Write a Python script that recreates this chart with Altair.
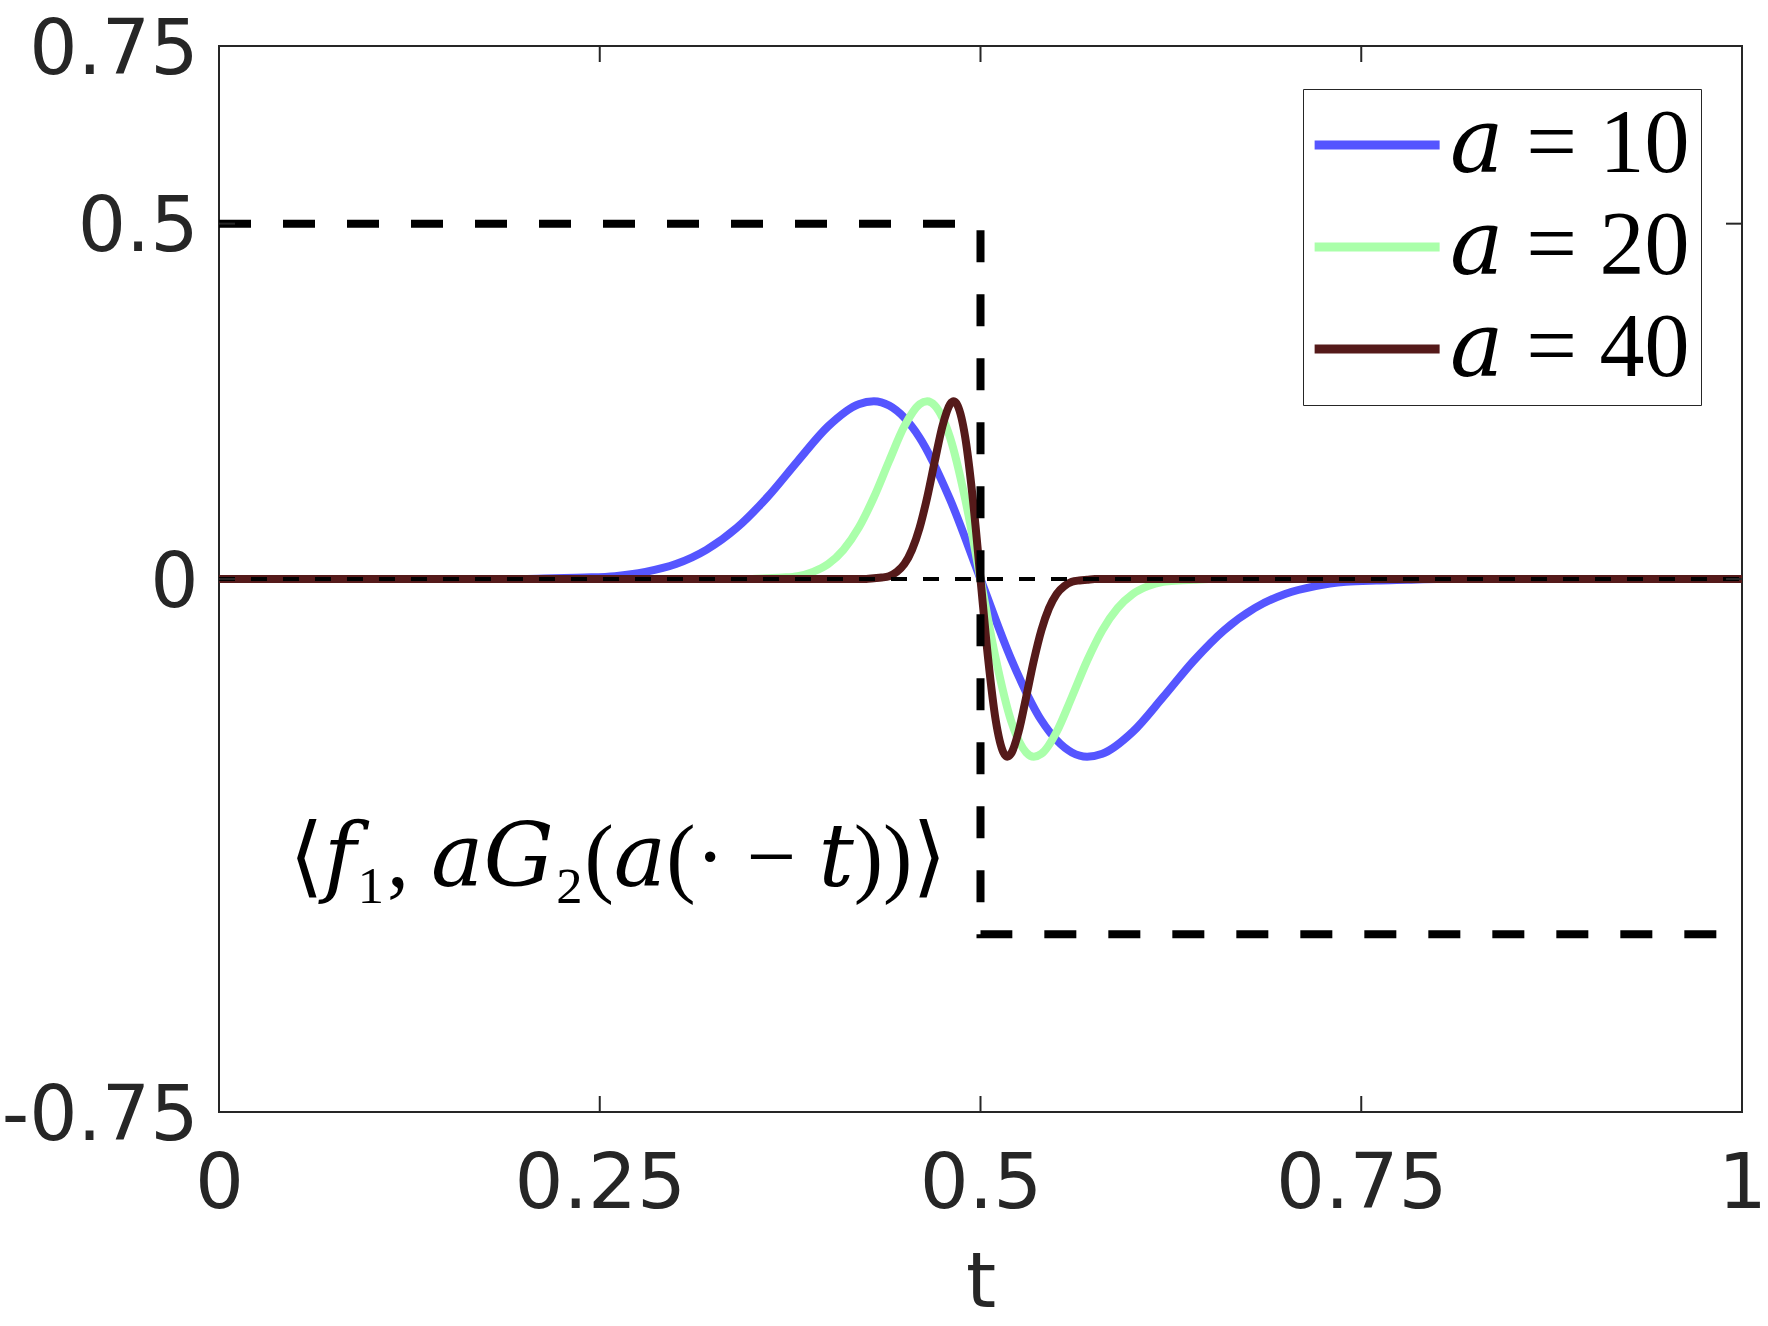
import altair as alt
import pandas as pd

# ---------------- data ----------------
SERIES = ["𝑎 = 10", "𝑎 = 20", "𝑎 = 40"]
COLORS = ["#5555ff", "#aaffaa", "#551a1a"]

T10 = [0.00, 0.20, 0.22, 0.24, 0.26, 0.28, 0.30, 0.32, 0.34, 0.36, 0.38, 0.40,
       0.42, 0.43, 0.44, 0.46, 0.48, 0.50, 0.52, 0.54, 0.56, 0.57, 0.58, 0.60,
       0.62, 0.64, 0.66, 0.68, 0.70, 0.72, 0.74, 0.76, 0.78, 0.80, 1.00]
Y10 = [0.000, 0.000, 0.001, 0.002, 0.004, 0.010, 0.021, 0.041, 0.072, 0.115, 0.166, 0.215,
       0.246, 0.250, 0.244, 0.199, 0.112, 0.000, -0.112, -0.199, -0.244, -0.250, -0.246, -0.215,
       -0.166, -0.115, -0.072, -0.041, -0.021, -0.010, -0.004, -0.002, -0.001, 0.000, 0.000]

T20 = [0.00, 0.35, 0.36, 0.37, 0.38, 0.39, 0.40, 0.41, 0.42, 0.43, 0.44, 0.45,
       0.46, 0.465, 0.47, 0.48, 0.49, 0.50, 0.51, 0.52, 0.53, 0.535, 0.54, 0.55,
       0.56, 0.57, 0.58, 0.59, 0.60, 0.61, 0.62, 0.63, 0.64, 0.65, 1.00]
Y20 = [0.000, 0.000, 0.001, 0.002, 0.004, 0.010, 0.021, 0.041, 0.072, 0.115, 0.166, 0.215,
       0.246, 0.250, 0.244, 0.199, 0.112, 0.000, -0.112, -0.199, -0.244, -0.250, -0.246, -0.215,
       -0.166, -0.115, -0.072, -0.041, -0.021, -0.010, -0.004, -0.002, -0.001, 0.000, 0.000]

T40 = [0.000, 0.425, 0.430, 0.435, 0.440, 0.445, 0.450, 0.455, 0.460, 0.465, 0.470, 0.475,
       0.480, 0.4825, 0.485, 0.490, 0.495, 0.500, 0.505, 0.510, 0.515, 0.5175, 0.520, 0.525,
       0.530, 0.535, 0.540, 0.545, 0.550, 0.555, 0.560, 0.565, 0.570, 0.575, 1.000]
Y40 = [0.000, 0.000, 0.001, 0.002, 0.004, 0.010, 0.021, 0.041, 0.072, 0.115, 0.166, 0.215,
       0.246, 0.250, 0.244, 0.199, 0.112, 0.000, -0.112, -0.199, -0.244, -0.250, -0.246, -0.215,
       -0.166, -0.115, -0.072, -0.041, -0.021, -0.010, -0.004, -0.002, -0.001, 0.000, 0.000]

STEP_T = [0.0, 0.5, 0.5, 1.0]
STEP_Y = [0.5, 0.5, -0.5, -0.5]
ZERO_T = [0.0, 1.0]
ZERO_Y = [0.0, 0.0]

XTICKS = [0, 0.25, 0.5, 0.75, 1]
XLABELS = ["0", "0.25", "0.5", "0.75", "1"]
YTICKS = [-0.75, 0, 0.5, 0.75]
YLABELS = ["-0.75", "0", "0.5", "0.75"]
XMARKS = [0.25, 0.5, 0.75]
YMARKS = [0.5, 0.0]

ANNOT_TEXT = ["⟨𝑓₁, 𝑎𝐺₂(𝑎(· − 𝑡))⟩"]
ANNOT_T = [0.262]
ANNOT_Y = [-0.432]

# ---------------- tables ----------------
rows = []
for name, ts, ys in zip(SERIES, [T10, T20, T40], [Y10, Y20, Y40]):
    for t, y in zip(ts, ys):
        rows.append({"series": name, "t": t, "v": y})
curves_df = pd.DataFrame(rows)
step_df = pd.DataFrame({"t": STEP_T, "v": STEP_Y, "i": list(range(len(STEP_T)))})
zero_df = pd.DataFrame({"t": ZERO_T, "v": ZERO_Y})
annot_df = pd.DataFrame({"t": ANNOT_T, "v": ANNOT_Y, "txt": ANNOT_TEXT})
xmark_df = pd.DataFrame({"t": XMARKS})
ymark_df = pd.DataFrame({"v": YMARKS})

W, H = 1523, 1066
AX = "#262626"
FONT = "DejaVu Sans"
SERIF = "Liberation Serif, DejaVu Serif, serif"


def label_expr(vals, labs):
    parts = [f"datum.value == {v} ? '{l}'" for v, l in zip(vals, labs)]
    return " : ".join(parts) + " : ''"


xs = alt.Scale(domain=[0, 1], nice=False, zero=False)
ys = alt.Scale(domain=[-0.75, 0.75], nice=False, zero=False)

xaxis = alt.Axis(values=XTICKS, labelExpr=label_expr(XTICKS, XLABELS), title="t",
                 domain=False, ticks=False, grid=False, labelFont=FONT, labelFontSize=77,
                 labelColor=AX, labelPadding=34, labelFlush=False, labelOverlap=False,
                 labelLimit=400, titleFont=FONT, titleFontSize=77, titleFontWeight="normal",
                 titleColor=AX, titlePadding=23)
yaxis = alt.Axis(values=YTICKS, labelExpr=label_expr(YTICKS, YLABELS), title=None,
                 domain=False, ticks=False, grid=False, labelFont=FONT, labelFontSize=76,
                 labelColor=AX, labelPadding=21, labelFlush=False, labelOverlap=False,
                 labelOffset=4, labelLimit=400)

X = lambda f="t": alt.X(f"{f}:Q", scale=xs, axis=xaxis)
Y = lambda f="v": alt.Y(f"{f}:Q", scale=ys, axis=yaxis)

curves = alt.Chart(curves_df).mark_line(strokeWidth=8, interpolate="monotone").encode(
    x=X(), y=Y(),
    color=alt.Color("series:N", scale=alt.Scale(domain=SERIES, range=COLORS),
                    sort=SERIES,
                    legend=alt.Legend(orient="none", legendX=1084, legendY=43, title=None,
                                      symbolType="M-1.42,0H2.58", symbolSize=3906,
                                      symbolStrokeWidth=9, labelFont=SERIF,
                                      labelFontSize=90, labelColor="black", labelLimit=600,
                                      padding=11, rowPadding=12, labelOffset=46,
                                      strokeColor=AX, fillColor="white")),
)

step = alt.Chart(step_df).mark_line(color="black", strokeWidth=8, strokeDash=[32, 32]).encode(
    x=X(), y=Y(), order="i:Q")
zero = alt.Chart(zero_df).mark_line(color="black", strokeWidth=4, strokeDash=[16, 16]).encode(
    x=X(), y=Y())

annot = alt.Chart(annot_df).mark_text(font=SERIF, fontSize=88,
                                      align="center", baseline="alphabetic", color="black").encode(
    x=X(), y=Y(), text="txt:N")

tick_style = dict(color=AX, strokeWidth=2)
xt_bottom = alt.Chart(xmark_df).mark_rule(**tick_style).encode(x=X(), y=alt.value(H), y2=alt.value(H - 16))
xt_top = alt.Chart(xmark_df).mark_rule(**tick_style).encode(x=X(), y=alt.value(0), y2=alt.value(16))
yt_left = alt.Chart(ymark_df).mark_rule(**tick_style).encode(y=Y(), x=alt.value(0), x2=alt.value(16))
yt_right = alt.Chart(ymark_df).mark_rule(**tick_style).encode(y=Y(), x=alt.value(W), x2=alt.value(W - 16))

chart = alt.layer(curves, step, zero, annot, xt_bottom, xt_top, yt_left, yt_right).properties(
    width=W, height=H,
    autosize=alt.AutoSizeParams(type="none"),
    padding={"left": 219, "top": 46, "right": 26, "bottom": 214},
    background="white",
).configure_view(stroke=AX, strokeWidth=2)

chart.save("out.html", embed_options={"renderer": "svg", "actions": False})
